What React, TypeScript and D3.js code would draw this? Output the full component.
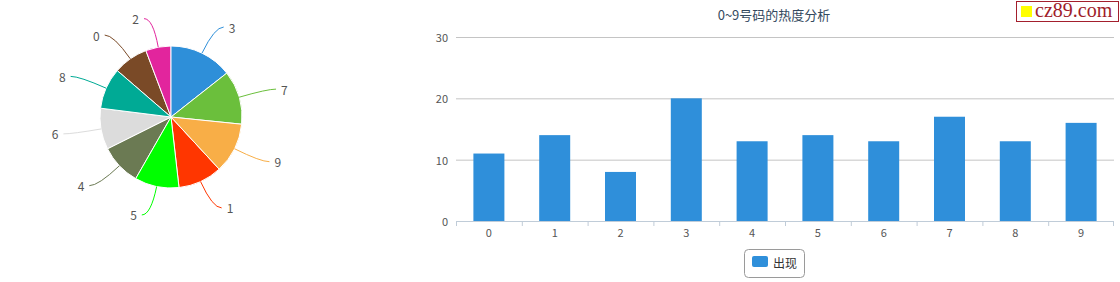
import React from 'react';
import * as d3 from 'd3';

const categories: string[] = ['0', '1', '2', '3', '4', '5', '6', '7', '8', '9'];
const counts: number[] = [11, 14, 8, 20, 13, 14, 13, 17, 13, 16];
const yTicks: number[] = [0, 10, 20, 30];
const pieColors: string[] = [
  '#7a4a27', // 0
  '#ff3600', // 1
  '#e2259d', // 2
  '#2e8fd9', // 3
  '#6b7a53', // 4
  '#00ff00', // 5
  '#dcdcdc', // 6
  '#6bbf3c', // 7
  '#00aa95', // 8
  '#f8ae47', // 9
];
const titleText = '0~9号码的热度分析';
const seriesName = '出现';
const BAR_COLOR = '#2f8fda';
const FONT = '"Noto Sans CJK SC", "Open Sans", sans-serif';

export default function App() {
  const W = 1120;
  const H = 282;

  // pie
  const cx = 171;
  const cy = 117;
  const R = 71;
  const data = categories.map((c, i) => ({ c, v: counts[i], i }));
  const pie = d3
    .pie<{ c: string; v: number; i: number }>()
    .value((d) => d.v)
    .sort((a, b) => b.v - a.v);
  const arcs = pie(data);
  const arcGen = d3.arc<d3.PieArcDatum<any>>().innerRadius(0).outerRadius(R);

  // bars
  const x = d3.scaleBand<string>().domain(categories).range([456, 1114]).padding(0);
  const y = d3.scaleLinear().domain([0, 30]).range([221, 37]);
  const barW = 31;

  return (
    <svg
      width={W}
      height={H}
      style={{ position: 'absolute', left: 0, top: 0, background: '#fff' }}
      fontFamily={FONT}
    >
      <g transform={`translate(${cx},${cy})`}>
        {arcs.map((a) => (
          <path key={a.data.c} d={arcGen(a) as string} fill={pieColors[a.data.i]} stroke="#fff" strokeWidth={1} />
        ))}
        {arcs.map((a) => {
          const m = (a.startAngle + a.endAngle) / 2;
          const s = Math.sin(m);
          const co = Math.cos(m);
          const side = s >= 0 ? 1 : -1;
          const p0 = [R * s, -R * co];
          const p1 = [(R + 29) * s, -(R + 29) * co];
          const p2 = [p1[0] + side * 9, p1[1]];
          return (
            <g key={'l' + a.data.c}>
              <path
                d={`M${p0[0]},${p0[1]} Q${p1[0]},${p1[1]} ${p2[0]},${p2[1]}`}
                fill="none"
                stroke={pieColors[a.data.i]}
                strokeWidth={1}
              />
              <text
                x={p2[0] + side * 5}
                y={p2[1]}
                textAnchor={side > 0 ? 'start' : 'end'}
                dominantBaseline="central"
                fontSize={12}
                fill="#555"
              >
                {a.data.c}
              </text>
            </g>
          );
        })}
      </g>

      {/* title */}
      <text x={774} y={14} textAnchor="middle" dominantBaseline="central" fontSize={13} fill="#34495e">
        {titleText}
      </text>

      {/* grid + y labels */}
      {yTicks.map((t) => (
        <g key={'y' + t}>
          {t > 0 && <line x1={456} x2={1114} y1={y(t) + 0.5} y2={y(t) + 0.5} stroke="#c4c4c4" strokeWidth={1} />}
          <text x={448} y={y(t)} textAnchor="end" dominantBaseline="central" fontSize={11} fill="#555">
            {t}
          </text>
        </g>
      ))}

      {/* bars */}
      {categories.map((c, i) => (
        <rect
          key={'b' + c}
          x={(x(c) as number) + x.bandwidth() / 2 - barW / 2}
          y={y(counts[i])}
          width={barW}
          height={y(0) - y(counts[i])}
          fill={BAR_COLOR}
        />
      ))}

      {/* x axis */}
      <line x1={456} x2={1114} y1={221.5} y2={221.5} stroke="#c0ccd8" strokeWidth={1} />
      {categories.map((c) => (
        <line key={'t' + c} x1={(x(c) as number) + 0.5} x2={(x(c) as number) + 0.5} y1={221} y2={226} stroke="#c0ccd8" />
      ))}
      <line x1={1113.5} x2={1113.5} y1={221} y2={226} stroke="#c0ccd8" />
      {categories.map((c) => (
        <text
          key={'xl' + c}
          x={(x(c) as number) + x.bandwidth() / 2}
          y={232}
          textAnchor="middle"
          dominantBaseline="central"
          fontSize={11}
          fill="#555"
        >
          {c}
        </text>
      ))}

      {/* legend */}
      <rect x={744.5} y={249.5} width={60} height={28} rx={4} fill="#fff" stroke="#9a9a9a" />
      <rect x={752} y={256} width={16} height={11} rx={2} fill={BAR_COLOR} />
      <text x={773} y={262} dominantBaseline="central" fontSize={12} fill="#333">
        {seriesName}
      </text>

      {/* watermark */}
      <rect x={1016.5} y={1.5} width={102} height={20} fill="#fff" stroke="#a31f2d" strokeWidth={1} />
      <rect x={1021} y={6} width={11} height={11} fill="#ffff00" />
      <text x={1035} y={17} fontFamily='"Liberation Serif", "DejaVu Serif", serif' fontSize={20} fill="#a01d2b">
        cz89.com
      </text>
    </svg>
  );
}
